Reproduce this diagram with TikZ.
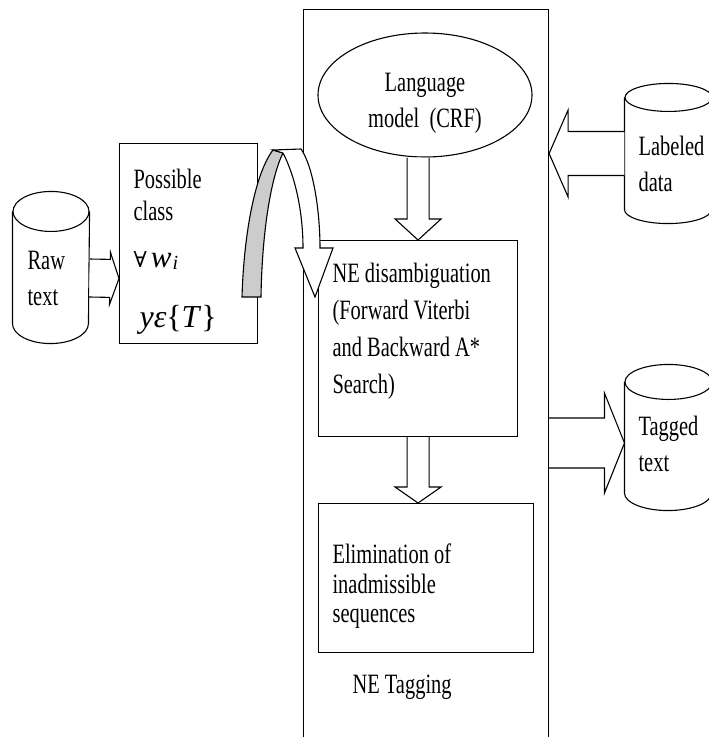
\documentclass[tikz,border=0pt]{standalone}
\usepackage{fontspec}
\setmainfont[FakeStretch=0.73]{Liberation Serif}
\newfontfamily\plainserif{Liberation Serif}
\newfontfamily\forallfont{DejaVu Serif}
\usetikzlibrary{calc}
\usetikzlibrary{positioning}
\usetikzlibrary{shapes.geometric}
\tikzstyle{box} = [draw, rectangle, inner sep=0pt, anchor=north west]
\tikzstyle{db} = [rectangle, inner sep=0pt]
\tikzstyle{txt} = [inner sep=0pt, anchor=north west, align=left, font=\fontsize{28}{36}\selectfont]
\tikzstyle{fat} = [draw, fill=white, line join=miter]

% block arrow: start, end, half shaft, half head, head length
\newcommand{\fatarrow}[5]{%
  \coordinate (fa) at (#1);
  \coordinate (fb) at (#2);
  \coordinate (hb) at ($(fb)!#5!(fa)$);
  \draw[fat] ($(fa)!#3!90:(fb)$) -- ($(hb)!#3!90:(fb)$) -- ($(hb)!#4!90:(fb)$) -- (fb)
    -- ($(hb)!#4!-90:(fb)$) -- ($(hb)!#3!-90:(fb)$) -- ($(fa)!#3!-90:(fb)$);
}
% drum outline round a db node: node, x radius, y radius
\newcommand{\dbshape}[3]{%
  \draw ($(#1.north)+(0,#3)$) ellipse [x radius=#2pt, y radius=#3pt];
  \draw ($(#1.north west)+(0,#3)$) -- ($(#1.south west)+(0,-#3)$)
    arc [start angle=180, end angle=360, x radius=#2pt, y radius=#3pt] -- ($(#1.north east)+(0,#3)$);
}

\begin{document}
\begin{tikzpicture}[x=1pt, y=-1pt, line width=1.1pt]
    \useasboundingbox (0,0) rectangle (709,737);

    \node[box, minimum width=245, minimum height=760](tagbox) at (303,9) {};
    \node[draw, ellipse, minimum width=214, minimum height=124, inner sep=0pt](lm) at (425,95) {};
    \node[box, minimum width=199, minimum height=196](ne) at (318,240) {};
    \node[box, minimum width=215, minimum height=149](el) at (318,503) {};
    \node[box, minimum width=138, minimum height=200](pc) at (119,143) {};
    \node[db, minimum width=76, minimum height=151](raw) at (51,267.5) {};
    \node[db, minimum width=87, minimum height=139](lab) at (668.5,153.5) {};
    \node[db, minimum width=87, minimum height=145](tag) at (668.5,437.5) {};
    \dbshape{raw}{38}{20}
    \dbshape{lab}{43.5}{14}
    \dbshape{tag}{43.5}{17.5}

    \node[txt](rawtxt) at (27,251) {Raw\\text};
    \node[txt, font=\fontsize{28}{32}\selectfont](pctxt) at (133,168.6) {Possible\\class};
    \node[anchor=base west, inner sep=0pt, font=\plainserif\fontsize{31}{32}\selectfont](forall) at (133,267)
        {{\forallfont\fontsize{22}{24}\selectfont ∀}\hspace{4pt}\textit{w}\hspace{1pt}\raisebox{-2pt}{\fontsize{20}{20}\selectfont\textit{i}}};
    \node[anchor=base west, inner sep=0pt, font=\plainserif\fontsize{32}{36}\selectfont](yset) at (139,327) {\textit{yε}\{\textit{T}\}};
    \node[txt, anchor=north, align=center](lmtxt) at (425,72.6) {Language\\model~~(CRF)};
    \node[txt](labtxt) at (638,135.6) {Labeled\\data};
    \node[txt, font=\fontsize{28}{37}\selectfont](netxt) at (332,262.6) {NE disambiguation\\(Forward Viterbi\\and Backward A*\\Search)};
    \node[txt](tagtxt) at (638,415.6) {Tagged\\text};
    \node[txt, font=\fontsize{28}{29.5}\selectfont](eltxt) at (332,543.6) {Elimination of\\inadmissible\\sequences};
    \node[anchor=base west, inner sep=0pt, font=\fontsize{28}{36}\selectfont](tagname) at (352,693) {NE Tagging};

    \fatarrow{$(raw.east)+(0,10.5)$}{$(pc.west)+(0,35)$}{19pt}{26pt}{9pt}
    \fatarrow{lab.west}{tagbox.east |- lab.west}{22pt}{43.5pt}{19pt}
    \coordinate (tagtip) at ($(tag.west)+(0,5.5)$);
    \fatarrow{tagbox.east |- tagtip}{tagtip}{25pt}{50pt}{20pt}
    \fatarrow{ne.north |- lm.south}{ne.north}{11pt}{23pt}{21pt}
    \fatarrow{ne.south}{ne.south |- el.north}{11pt}{23pt}{16pt}

    % curved arrow from the class box into the tagger
    \draw[fill=gray!40] (242,297) .. controls (244,230) and (256,172) .. (273,150) -- (283,153)
        .. controls (271,177) and (262,232) .. (261,297) -- cycle;
    \draw[fat] (283,153) -- (273,150) -- (301,149) .. controls (313,166) and (320,210) .. (320,248)
        -- (333,248) -- (315,297) -- (295,248) -- (303,248) .. controls (303,214) and (296,178) .. (283,153) -- cycle;
\end{tikzpicture}
\end{document}
